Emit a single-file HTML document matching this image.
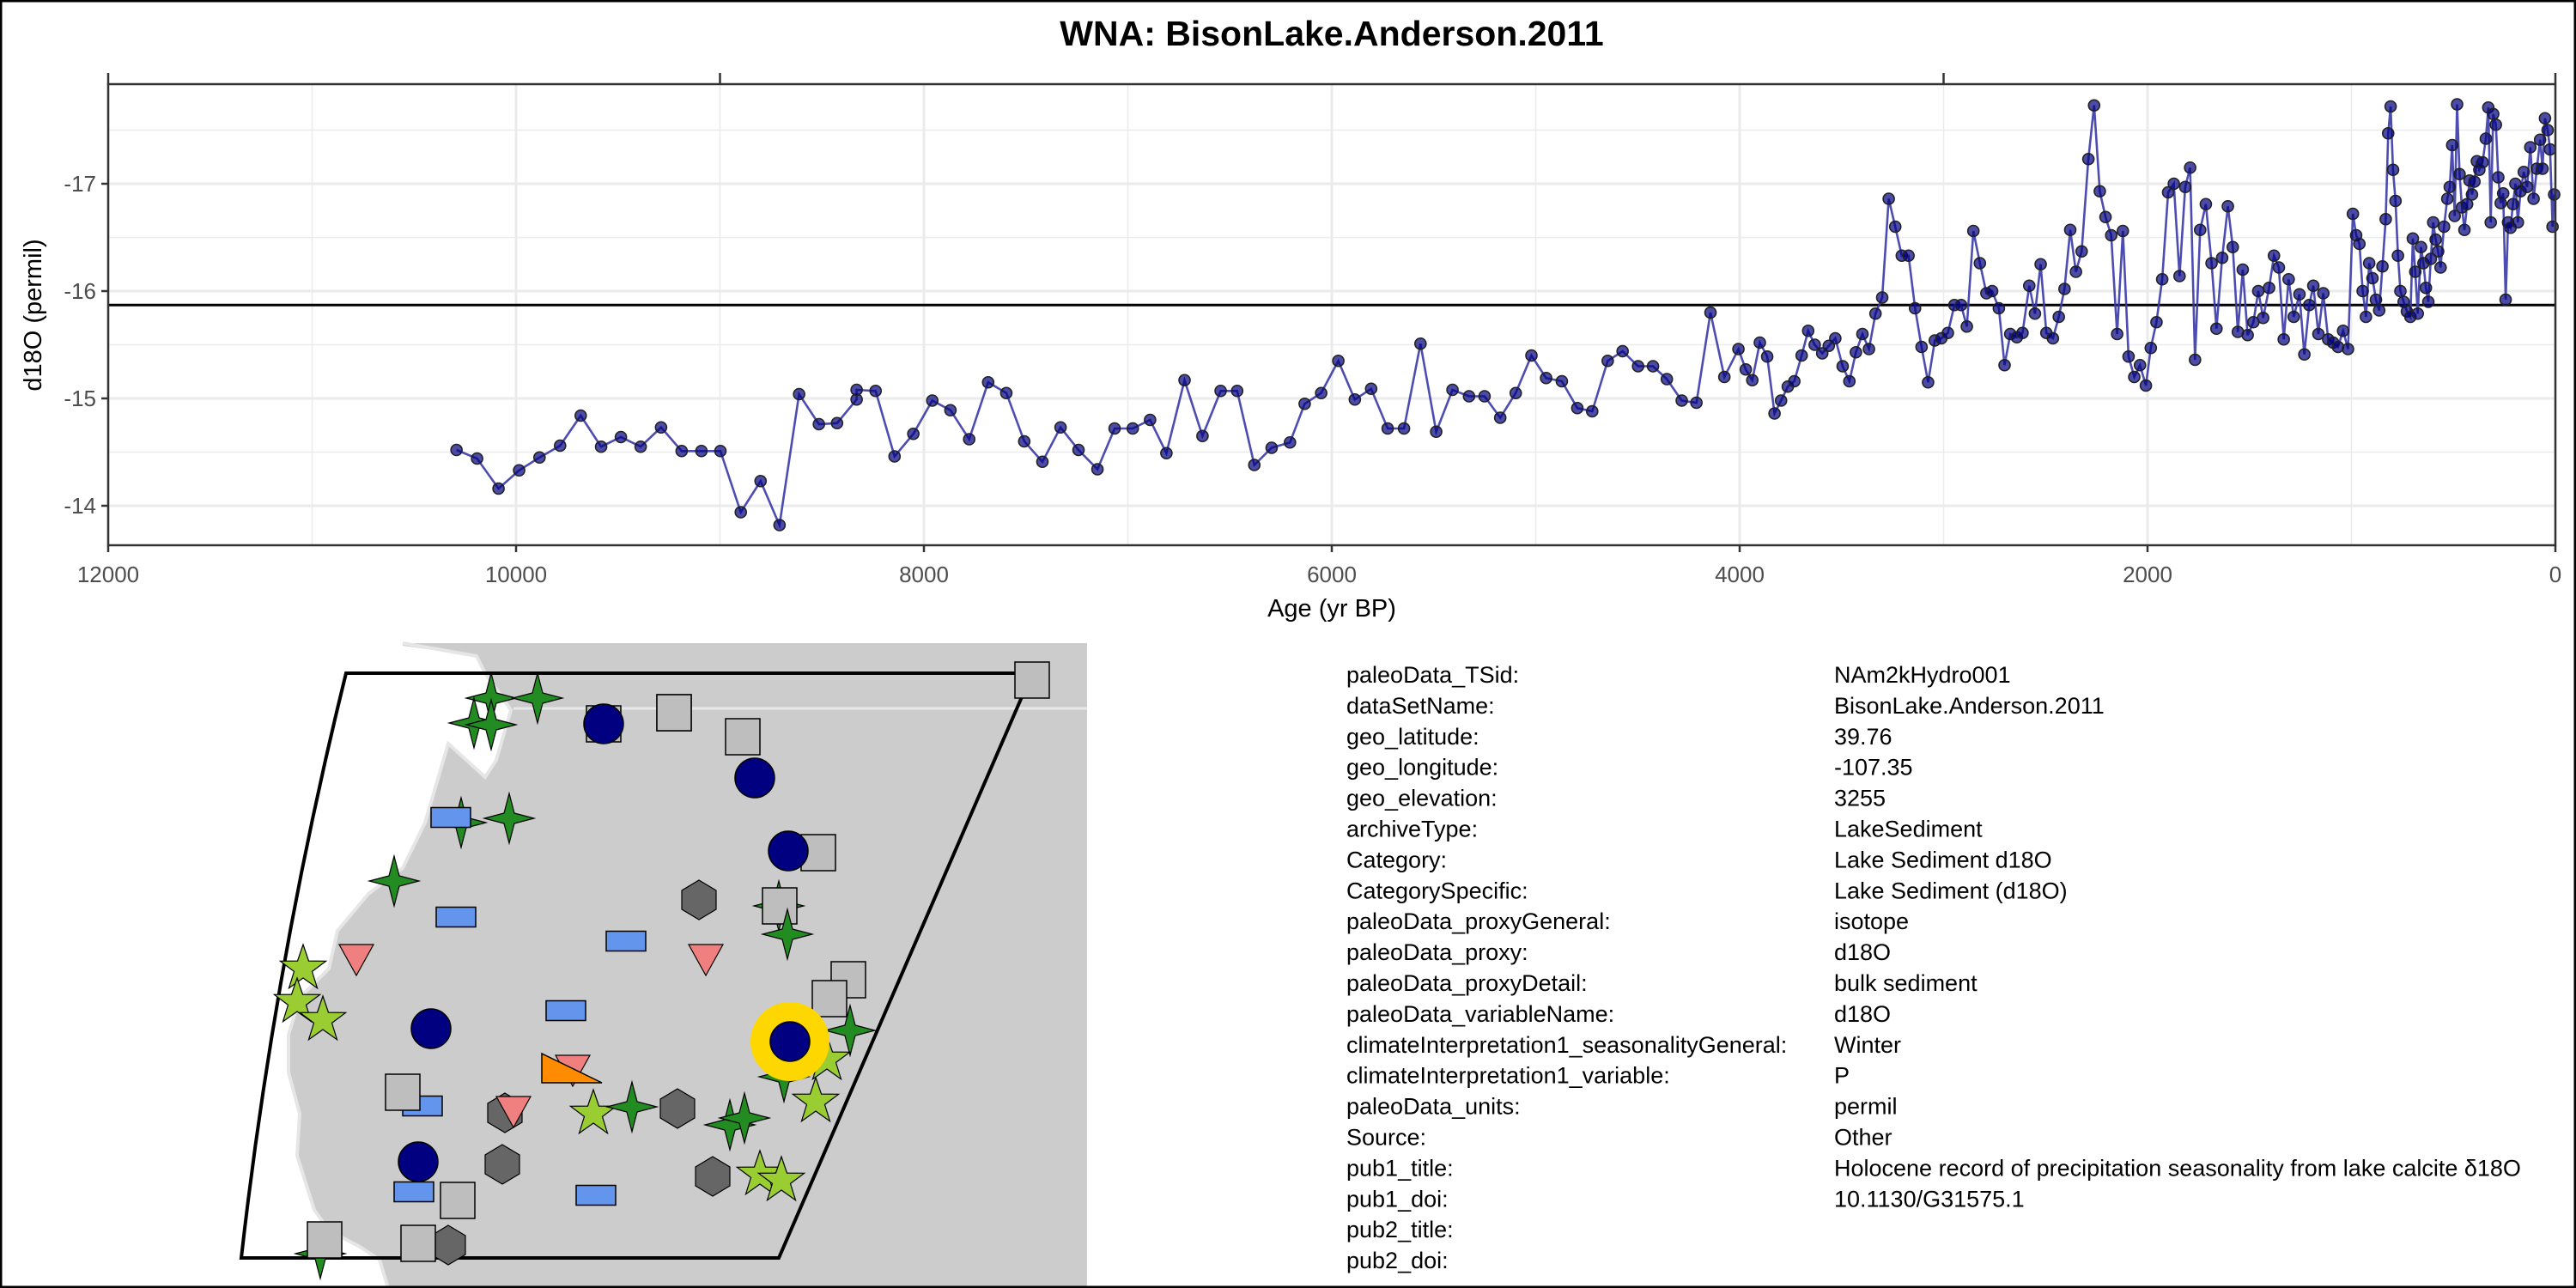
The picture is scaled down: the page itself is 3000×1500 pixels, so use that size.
<!DOCTYPE html>
<html>
<head>
<meta charset="utf-8">
<style>
html,body{margin:0;padding:0;background:#fff;}
svg{display:block;}
text{font-family:"Liberation Sans",Arial,sans-serif;}
</style>
</head>
<body>
<svg id="root" width="3000" height="1500" viewBox="0 0 3000 1500" xmlns="http://www.w3.org/2000/svg">
<rect x="0" y="0" width="3000" height="1500" fill="#fff"/>
<text x="1551" y="53" font-size="41" font-weight="bold" text-anchor="middle">WNA: BisonLake.Anderson.2011</text>
<g id="chart"></g>
<text x="1551" y="718" font-size="29" text-anchor="middle">Age (yr BP)</text>
<text x="0" y="0" font-size="29" text-anchor="middle" transform="translate(48,367) rotate(-90)">d18O (permil)</text>

<g id="map">
  <rect x="250" y="749" width="1016" height="751" fill="#cccccc"/>
  <path d="M250,749 L469,749 L469,752 L555,764 L565,784 L582,808 L595,827 L578,885 L565,905 L522,866 L512,900 L495,958 L469,1011 L429,1041 L393,1084 L383,1128 L349,1162 L336,1205 L336,1249 L349,1297 L346,1346 L366,1409 L383,1433 L419,1452 L442,1467 L452,1500 L250,1500 Z" fill="#ffffff"/>
  <path d="M469,749 L555,764 L565,784 L582,808 L595,827 L578,885 L565,905 L522,866 L512,900 L495,958 L469,1011 L429,1041 L393,1084 L383,1128 L349,1162 L336,1205 L336,1249 L349,1297 L346,1346 L366,1409 L383,1433 L419,1452 L442,1467 L452,1500" fill="none" stroke="#e6e6e6" stroke-width="4"/>
  <line x1="598" y1="825" x2="1266" y2="825" stroke="#e8e8e8" stroke-width="3"/>
  <path d="M403,784 L1202,784 L907,1465 L281,1465 Q320,1120 403,784 Z" fill="none" stroke="#000" stroke-width="4"/>
  <g id="markers"></g>
</g>

<g id="meta" font-size="27"></g>
<rect x="1" y="1" width="2998" height="1498" fill="none" stroke="#000" stroke-width="3"/>
</svg>
<script>
// ---- chart data ----
const ages = [10292,10191,10086,9985,9885,9784,9683,9583,9486,9389,9289,9188,9091,8998,8898,8801,8708,8612,8515,8426,8330,8330,8237,8144,8052,7959,7870,7778,7685,7596,7508,7419,7330,7242,7149,7065,6976,6891,6811,6722,6634,6545,6464,6380,6295,6205,6133,6052,5968,5887,5807,5726,5646,5565,5488,5408,5327,5251,5174,5098,5021,4949,4872,4796,4723,4647,4574,4498,4425,4357,4284,4212,4143,4075,4006,3970,3938,3901,3865,3829,3797,3764,3732,3696,3664,3632,3595,3563,3531,3495,3462,3430,3398,3366,3334,3301,3269,3237,3205,3172,3140,3108,3076,3043,3011,2979,2947,2914,2886,2854,2822,2790,2762,2729,2701,2673,2641,2613,2580,2552,2524,2496,2464,2435,2407,2379,2351,2323,2290,2262,2234,2206,2178,2149,2121,2093,2065,2037,2008,1984,1956,1928,1899,1871,1843,1815,1791,1767,1742,1714,1686,1662,1634,1606,1582,1557,1533,1509,1481,1457,1433,1404,1380,1356,1332,1308,1283,1255,1231,1207,1187,1162,1138,1114,1090,1066,1041,1017,993,977,961,945,929,913,897,880,864,848,832,820,808,796,784,772,760,744,728,711,699,687,675,659,647,635,623,611,599,587,575,563,546,530,518,506,494,482,470,458,446,433,421,409,397,385,373,357,341,329,317,305,292,280,268,256,244,232,220,208,196,184,171,155,139,123,107,91,75,63,51,38,26,14,6];
const d18O = [-14.52,-14.44,-14.16,-14.33,-14.45,-14.56,-14.84,-14.55,-14.64,-14.55,-14.73,-14.51,-14.51,-14.51,-13.94,-14.23,-13.82,-15.04,-14.76,-14.77,-14.99,-15.08,-15.07,-14.46,-14.67,-14.98,-14.89,-14.62,-15.15,-15.05,-14.60,-14.41,-14.73,-14.52,-14.34,-14.72,-14.72,-14.80,-14.49,-15.17,-14.65,-15.07,-15.07,-14.38,-14.54,-14.59,-14.95,-15.05,-15.35,-14.99,-15.09,-14.72,-14.72,-15.51,-14.69,-15.08,-15.02,-15.02,-14.82,-15.05,-15.40,-15.19,-15.16,-14.91,-14.88,-15.35,-15.44,-15.30,-15.30,-15.18,-14.98,-14.96,-15.80,-15.20,-15.46,-15.27,-15.17,-15.52,-15.39,-14.86,-14.98,-15.11,-15.16,-15.40,-15.63,-15.50,-15.42,-15.49,-15.56,-15.30,-15.16,-15.43,-15.60,-15.46,-15.79,-15.94,-16.86,-16.60,-16.33,-16.33,-15.84,-15.48,-15.15,-15.54,-15.56,-15.61,-15.87,-15.87,-15.67,-16.56,-16.26,-15.98,-16.00,-15.84,-15.31,-15.60,-15.57,-15.61,-16.05,-15.79,-16.25,-15.61,-15.56,-15.76,-16.02,-16.57,-16.18,-16.37,-17.23,-17.73,-16.93,-16.69,-16.52,-15.60,-16.56,-15.39,-15.20,-15.31,-15.12,-15.47,-15.71,-16.11,-16.92,-17.00,-16.14,-16.97,-17.15,-15.36,-16.57,-16.81,-16.26,-15.65,-16.31,-16.79,-16.41,-15.62,-16.20,-15.59,-15.71,-16.00,-15.75,-16.03,-16.33,-16.22,-15.55,-16.11,-15.76,-15.97,-15.41,-15.87,-16.05,-15.60,-15.98,-15.55,-15.52,-15.48,-15.63,-15.46,-16.72,-16.52,-16.44,-16.00,-15.76,-16.26,-16.12,-15.92,-15.82,-16.23,-16.67,-17.47,-17.72,-17.13,-16.84,-16.33,-16.00,-15.90,-15.81,-15.76,-16.49,-16.18,-15.79,-16.41,-16.26,-16.03,-15.90,-16.30,-16.64,-16.48,-16.37,-16.22,-16.60,-16.86,-16.97,-17.36,-16.70,-17.74,-17.09,-16.78,-16.57,-16.81,-17.03,-16.90,-17.02,-17.21,-17.13,-17.20,-17.42,-17.71,-16.64,-17.65,-17.55,-17.06,-16.82,-16.91,-15.92,-16.64,-16.59,-16.81,-17.00,-16.64,-16.93,-17.11,-16.97,-17.34,-16.86,-17.14,-17.41,-17.14,-17.61,-17.50,-17.32,-16.60,-16.90];
const xTickValues = [12000,10000,8000,6000,4000,2000,0];
const xTickLabels = ["12000","10000","8000","6000","4000","2000","0"];
const yTickValues = [-17,-16,-15,-14];
const yTickLabels = ["-17","-16","-15","-14"];
const topTickValues = [12000,9000,3000,0];
const meanValue = [-15.87];

const NS = "http://www.w3.org/2000/svg";
const PL = 126, PR = 2976, PT = 98, PB = 635;
function xs(a){ return PL + (12000 - a) / 12000 * (PR - PL); }
function ys(v){ return 214 + (v + 17) * 125; }
function mk(tag, attrs, parent){ const e = document.createElementNS(NS, tag); for (const k in attrs) e.setAttribute(k, attrs[k]); parent.appendChild(e); return e; }

const chart = document.getElementById('chart');
let el = mk('rect', {x:PL, y:PT, width:PR-PL, height:PB-PT, fill:'#fff'}, chart);


for (let a = 1000; a < 12000; a += 2000) {
  el = mk('line', {x1:xs(a), x2:xs(a), y1:PT, y2:PB, stroke:'#ebebeb', 'stroke-width':1.5}, chart);
  
  
}
for (const v of [-17.5,-16.5,-15.5,-14.5]) {
  el = mk('line', {x1:PL, x2:PR, y1:ys(v), y2:ys(v), stroke:'#ebebeb', 'stroke-width':1.5}, chart);
  
  
}
xTickValues.forEach(function(a){
  el = mk('line', {x1:xs(a), x2:xs(a), y1:PT, y2:PB, stroke:'#ebebeb', 'stroke-width':3}, chart);
  
  
});
yTickValues.forEach(function(v){
  el = mk('line', {x1:PL, x2:PR, y1:ys(v), y2:ys(v), stroke:'#ebebeb', 'stroke-width':3}, chart);
  
  
});
el = mk('line', {x1:PL, x2:PR, y1:ys(meanValue[0]), y2:ys(meanValue[0]), stroke:'#000', 'stroke-width':3}, chart);


let d = '';
ages.forEach(function(a, i){ d += (i ? 'L' : 'M') + xs(a).toFixed(1) + ',' + ys(d18O[i]).toFixed(1); });
el = mk('path', {d:d, fill:'none', stroke:'#3a3aa8', 'stroke-width':2.6, 'stroke-opacity':0.9}, chart);


ages.forEach(function(a, i){
  const c = mk('circle', {cx:xs(a), cy:ys(d18O[i]), r:6.5, fill:'rgba(0,0,128,0.7)', stroke:'#222', 'stroke-width':1.6}, chart);
  
  
});
el = mk('rect', {x:PL, y:PT, width:PR-PL, height:PB-PT, fill:'none', stroke:'#333', 'stroke-width':2.5}, chart);


xTickValues.forEach(function(a, i){
  const t = mk('line', {x1:xs(a), x2:xs(a), y1:PB, y2:PB+8, stroke:'#333', 'stroke-width':2.5}, chart);
  
  
  const lb = mk('text', {x:xs(a), y:678, 'font-size':26, fill:'#4d4d4d', 'text-anchor':'middle'}, chart);
  lb.textContent = xTickLabels[i];
  
  
});
topTickValues.forEach(function(a){
  const t = mk('line', {x1:xs(a), x2:xs(a), y1:PT-13, y2:PT, stroke:'#333', 'stroke-width':2.5}, chart);
  
  
});
yTickValues.forEach(function(v, i){
  const t = mk('line', {x1:PL-8, x2:PL, y1:ys(v), y2:ys(v), stroke:'#333', 'stroke-width':2.5}, chart);
  
  
  const lb = mk('text', {x:PL-14, y:ys(v)+9, 'font-size':26, fill:'#4d4d4d', 'text-anchor':'end'}, chart);
  lb.textContent = yTickLabels[i];
  
  
});

// ---- map markers ----
const mg = document.getElementById('markers');
function square(x,y){ const e = mk('rect',{x:x-20,y:y-21,width:40,height:42,fill:'#bebebe',stroke:'#000','stroke-width':1.5},mg);   }
function circ(x,y){ const e = mk('ellipse',{cx:x,cy:y,rx:23,ry:23,fill:'#000080',stroke:'#000','stroke-width':1.5},mg);   }
function brect(x,y){ const e = mk('rect',{x:x-23,y:y-11.5,width:46,height:23,fill:'#6495ed',stroke:'#000','stroke-width':1.5},mg);   }
function tri(x,y){ const e = mk('polygon',{points:(x-20)+','+(y-18)+' '+(x+20)+','+(y-18)+' '+x+','+(y+18),fill:'#f08080',stroke:'#000','stroke-width':1.2},mg);   }
function hex(x,y){ const p=[[0,-23],[20,-11],[20,11],[0,23],[-20,11],[-20,-11]].map(function(q){return (x+q[0])+','+(y+q[1]);}).join(' '); const e = mk('polygon',{points:p,fill:'#666666',stroke:'#000','stroke-width':1.2},mg);   }
function star4(x,y){ const p=[[0,-29],[6,-6],[29,0],[6,6],[0,29],[-6,6],[-29,0],[-6,-6]].map(function(q){return (x+q[0])+','+(y+q[1]);}).join(' '); const e = mk('polygon',{points:p,fill:'#228b22',stroke:'#000','stroke-width':1.2},mg);   }
function star5(x,y){ let p=[]; for(let k=0;k<10;k++){ const r=k%2?11:28; const ang=-Math.PI/2+k*Math.PI/5; p.push((x+r*Math.cos(ang)).toFixed(1)+','+(y+r*Math.sin(ang)).toFixed(1)); } const e = mk('polygon',{points:p.join(' '),fill:'#9acd32',stroke:'#000','stroke-width':1.2},mg);   }

square(703,843); square(785,830); circ(703,843); square(785,830);
square(865,858); circ(879,906); square(953,993); circ(918,991);
star4(572,813); star4(626,813); star4(552,842); star4(572,844);
star4(537,958); brect(525,952); star4(593,953); star4(459,1026);
brect(531,1068); brect(729,1096); hex(814,1048); star4(907,1055); square(908,1055); star4(917,1088);
tri(415,1118); tri(822,1118);
star5(353,1128); star5(346,1167); star5(376,1188);
square(988,1141); square(966,1163); star4(990,1200); star5(963,1234);
brect(659,1177); circ(502,1198);
tri(667,1247);
(function(){ const e = mk('polygon',{points:'631,1227 631,1261 701,1261',fill:'#ff8c00',stroke:'#000','stroke-width':1.5},mg);   })();
brect(492,1288); square(469,1272); hex(588,1296); tri(598,1295);
star5(691,1297); star4(736,1289); hex(789,1291); star4(850,1310); star4(867,1302);
star4(913,1254); star5(950,1283);
(function(){ const e = mk('ellipse',{cx:920,cy:1213,rx:46,ry:46,fill:'#ffd700',stroke:'none'},mg);   })();
circ(920,1213);
circ(487,1353); brect(482,1388); square(533,1398); hex(585,1356); brect(694,1392); hex(830,1370);
star5(885,1368); star5(910,1375);
star4(373,1460); square(378,1444); hex(522,1450); square(487,1448);
square(1202,792);

// ---- metadata ----
const metaKeys = ["paleoData_TSid:","dataSetName:","geo_latitude:","geo_longitude:","geo_elevation:","archiveType:","Category:","CategorySpecific:","paleoData_proxyGeneral:","paleoData_proxy:","paleoData_proxyDetail:","paleoData_variableName:","climateInterpretation1_seasonalityGeneral:","climateInterpretation1_variable:","paleoData_units:","Source:","pub1_title:","pub1_doi:","pub2_title:","pub2_doi:"];
const metaVals = ["NAm2kHydro001","BisonLake.Anderson.2011","39.76","-107.35","3255","LakeSediment","Lake Sediment d18O","Lake Sediment (d18O)","isotope","d18O","bulk sediment","d18O","Winter","P","permil","Other","Holocene record of precipitation seasonality from lake calcite \u03b418O","10.1130/G31575.1","",""];
const meta = document.getElementById('meta');
metaKeys.forEach(function(k, i){
  const y = 795 + i * 35.9;
  const t1 = mk('text', {x:1568, y:y}, meta);
  t1.textContent = k;
  
  
  const t2 = mk('text', {x:2136, y:y}, meta);
  t2.textContent = metaVals[i];
  
  
});
</script>
</body>
</html>
